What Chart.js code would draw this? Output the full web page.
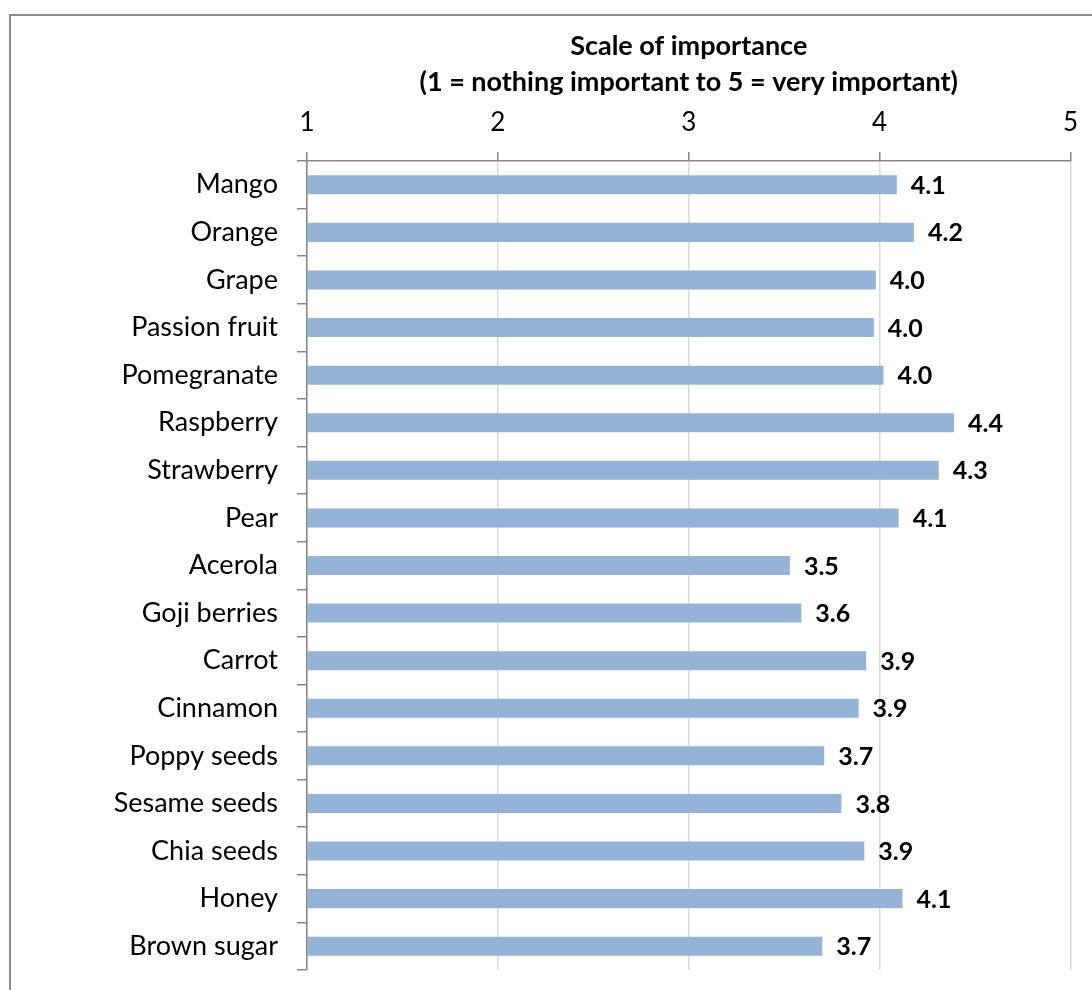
<!DOCTYPE html>
<html>
<head>
<meta charset="utf-8">
<title>Scale of importance</title>
<script src="https://cdn.jsdelivr.net/npm/chart.js@4.4.1/dist/chart.umd.min.js"></script>
<style>
    html, body { margin: 0; padding: 0; background: #fff; overflow: hidden; }
    #frame {
        position: absolute; left: 9px; top: 14px;
        width: 1200px; height: 1100px;
        border: 2px solid #8a8a8a;
    }
    #wrap { position: absolute; left: 0; top: 0; width: 1092px; height: 990px; }
</style>
</head>
<body>
<div id="frame"></div>
<div id="wrap"><canvas id="chart"></canvas></div>
<script>
// --- Data ---
const categories = [
    'Mango', 'Orange', 'Grape', 'Passion fruit', 'Pomegranate', 'Raspberry',
    'Strawberry', 'Pear', 'Acerola', 'Goji berries', 'Carrot', 'Cinnamon',
    'Poppy seeds', 'Sesame seeds', 'Chia seeds', 'Honey', 'Brown sugar'
];
const scores = [
    4.09, 4.18, 3.98, 3.97, 4.02, 4.39,
    4.31, 4.10, 3.53, 3.59, 3.93, 3.89,
    3.71, 3.80, 3.92, 4.12, 3.70
];
const axisTicks = [1, 2, 3, 4, 5];
const axisTitle = ['Scale of importance', '(1 = nothing important to 5 = very important)'];

const FONT = 'Lato, "Open Sans", sans-serif';
const AXIS_GREY = '#868686';

// value labels to the right of each bar
const valueLabels = {
    id: 'valueLabels',
    afterDatasetsDraw(chart) {
        const ctx = chart.ctx;
        const meta = chart.getDatasetMeta(0);
        ctx.save();
        ctx.font = 'bold 25px ' + FONT;
        ctx.fillStyle = '#000';
        ctx.textAlign = 'left';
        ctx.textBaseline = 'middle';
        meta.data.forEach((bar, i) => {
            ctx.fillText(scores[i].toFixed(1), bar.x + 14, bar.y + 1);
        });
        ctx.restore();
    }
};

new Chart(document.getElementById('chart'), {
    type: 'bar',
    data: {
        labels: categories,
        datasets: [{
            data: scores,
            backgroundColor: '#95b3d7',
            borderWidth: 0,
            barPercentage: 0.4,
            categoryPercentage: 1.0
        }]
    },
    options: {
        indexAxis: 'y',
        responsive: true,
        maintainAspectRatio: false,
        animation: false,
        layout: { padding: { left: 0, top: 0, right: 21, bottom: 20 } },
        plugins: {
            legend: { display: false },
            tooltip: { enabled: false }
        },
        scales: {
            x: {
                position: 'top',
                min: axisTicks[0],
                max: axisTicks[axisTicks.length - 1],
                afterBuildTicks: scale => { scale.ticks = axisTicks.map(v => ({ value: v })); },
                afterFit: scale => { scale.height = 161; },
                grid: {
                    color: '#d9d9d9',
                    lineWidth: 1.5,
                    tickColor: AXIS_GREY,
                    tickLength: 9
                },
                border: { color: AXIS_GREY, width: 1.5 },
                ticks: {
                    color: '#000',
                    padding: 14,
                    font: { family: FONT, size: 26 }
                },
                title: {
                    display: true,
                    text: axisTitle,
                    color: '#000',
                    padding: { top: 28, bottom: 0 },
                    font: { family: FONT, size: 27, weight: 'bold', lineHeight: 1.33 }
                }
            },
            y: {
                afterFit: scale => {
                    scale.width = 307;
                    // labels sit between ticks, no edge overflow to reserve
                    scale.paddingTop = 0;
                    scale.paddingBottom = 0;
                },
                grid: {
                    offset: true,
                    drawOnChartArea: false,
                    tickColor: AXIS_GREY,
                    tickLength: 10,
                    lineWidth: 1.5
                },
                border: { color: AXIS_GREY, width: 1.5 },
                ticks: {
                    color: '#000',
                    padding: 19,
                    font: { family: FONT, size: 27 }
                }
            }
        }
    },
    plugins: [valueLabels]
});
</script>
</body>
</html>
